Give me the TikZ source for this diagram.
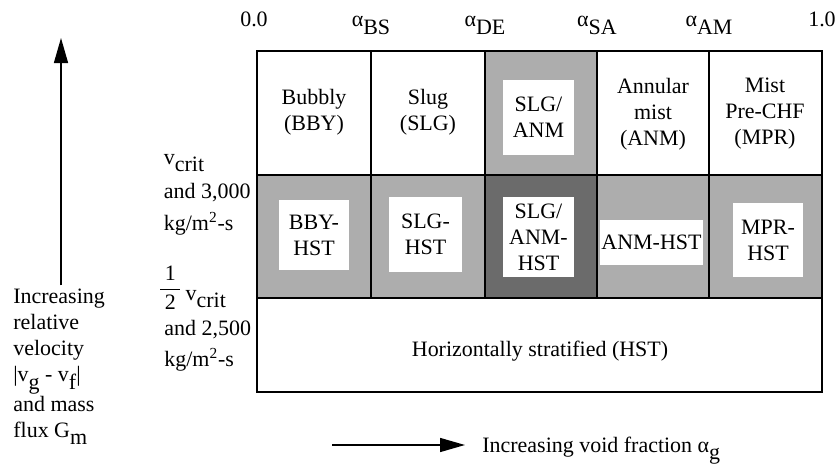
\documentclass[tikz,border=0pt]{standalone}
\usepackage{fontspec}
\setmainfont{Liberation Serif}
\usetikzlibrary{arrows.meta}
\colorlet{lightshade}{black!32}
\colorlet{darkshade}{black!58}
\newcommand{\dsub}[1]{\raisebox{-0.35em}{#1}}

\begin{document}
\begin{tikzpicture}[xshift=0cm, scale=1,
    every node/.style={font=\fontsize{12.5}{14.8}\selectfont},
    regime/.style={align=center},
    hole/.style={fill=white, align=center, inner sep=0pt},
    grid/.style={line width=1.1pt},
    arr/.style={line width=0.8pt, -{Triangle[length=0.5cm,width=0.28cm]}}]

    \useasboundingbox (0,0) rectangle (16.76,9.4);

    % Shaded cells (mixed regimes)
    \fill[lightshade] (9.70,5.90) rectangle (11.94,8.38); % SLG/ANM column, top row
    \fill[lightshade] (5.14,3.44) rectangle (16.44,5.90); % middle row
    \fill[darkshade] (9.70,3.44) rectangle (11.94,5.90); % SLG/ANM-HST cell

    % Table lines
    \draw[grid] (5.14,1.56) rectangle (16.44,8.38);
    \draw[grid] (5.14,5.90) -- (16.44,5.90);
    \draw[grid] (5.14,3.44) -- (16.44,3.44);
    \draw[grid] (7.42,3.44) -- (7.42,8.38);
    \draw[grid] (9.70,3.44) -- (9.70,8.38);
    \draw[grid] (11.94,3.44) -- (11.94,8.38);
    \draw[grid] (14.18,3.44) -- (14.18,8.38);

    % Void fraction limits along the top
    \node[anchor=base] (a0) at (5.08,8.86) {0.0};
    \node[anchor=base] (abs) at (7.42,8.86) {α\dsub{BS}};
    \node[anchor=base] (ade) at (9.70,8.86) {α\dsub{DE}};
    \node[anchor=base] (asa) at (11.94,8.86) {α\dsub{SA}};
    \node[anchor=base] (aam) at (14.18,8.86) {α\dsub{AM}};
    \node[anchor=base] (a1) at (16.44,8.86) {1.0};

    % Top row regimes
    \node[regime] (bby) at (6.28,7.16) {Bubbly\\(BBY)};
    \node[regime] (slg) at (8.56,7.16) {Slug\\(SLG)};
    \node[hole, minimum width=1.42cm, minimum height=1.5cm] (slganm) at (10.77,7.05) {SLG/\\ANM};
    \node[regime] (anm) at (13.06,7.12) {Annular\\mist\\(ANM)};
    \node[regime] (mpr) at (15.30,7.12) {Mist\\Pre-CHF\\(MPR)};

    % Middle row regimes
    \node[hole, minimum width=1.40cm, minimum height=1.40cm] (bbyhst) at (6.28,4.70) {BBY-\\HST};
    \node[hole, minimum width=1.46cm, minimum height=1.50cm] (slghst) at (8.51,4.71) {SLG-\\HST};
    \node[hole, minimum width=1.42cm, minimum height=1.60cm] (slganmhst) at (10.77,4.66) {SLG/\\ANM-\\HST};
    \node[hole, minimum width=2.06cm, minimum height=0.90cm] (anmhst) at (13.03,4.55) {ANM-HST};
    \node[hole, minimum width=1.40cm, minimum height=1.48cm] (mprhst) at (15.36,4.60) {MPR-\\HST};

    % Bottom row
    \node[regime] (hst) at (10.80,2.38) {Horizontally stratified (HST)};

    % Row limits on the left
    \node[align=left, anchor=west, inner sep=0pt] (vcrit) at (3.27,5.51) {v\dsub{crit}\\[5pt]and 3,000\\[3pt]kg/m\textsuperscript{2}-s};
    \node[align=left, anchor=west, inner sep=0pt] (halfcrit) at (3.16,3.03) {$\displaystyle\frac{\mbox{\hspace{0.2em}1\hspace{0.2em}}}{\mbox{\hspace{0.2em}2\hspace{0.2em}}}$\hspace{0.15em}\raisebox{-0.25em}{v\dsub{crit}}\\[5pt]\hspace{0.12cm}and 2,500\\[3pt]\hspace{0.12cm}kg/m\textsuperscript{2}-s};

    % Vertical axis
    \node[align=left, anchor=west, inner sep=0pt] (vel) at (0.26,2.06) {Increasing\\relative\\velocity\\|v\dsub{g} - v\dsub{f}|\\and mass\\flux G\dsub{m}};
    \coordinate (vtip) at (1.22,8.64);
    \draw[arr] ([yshift=2pt]vel.north -| vtip) -- (vtip);

    % Horizontal axis
    \node[anchor=base west, inner sep=0pt] (voidtxt) at (9.64,0.36) {Increasing void fraction α\dsub{g}};
    \coordinate (hstart) at (6.64,0.50);
    \draw[arr] (hstart) -- ([xshift=-0.34cm]voidtxt.west |- hstart);
\end{tikzpicture}
\end{document}
